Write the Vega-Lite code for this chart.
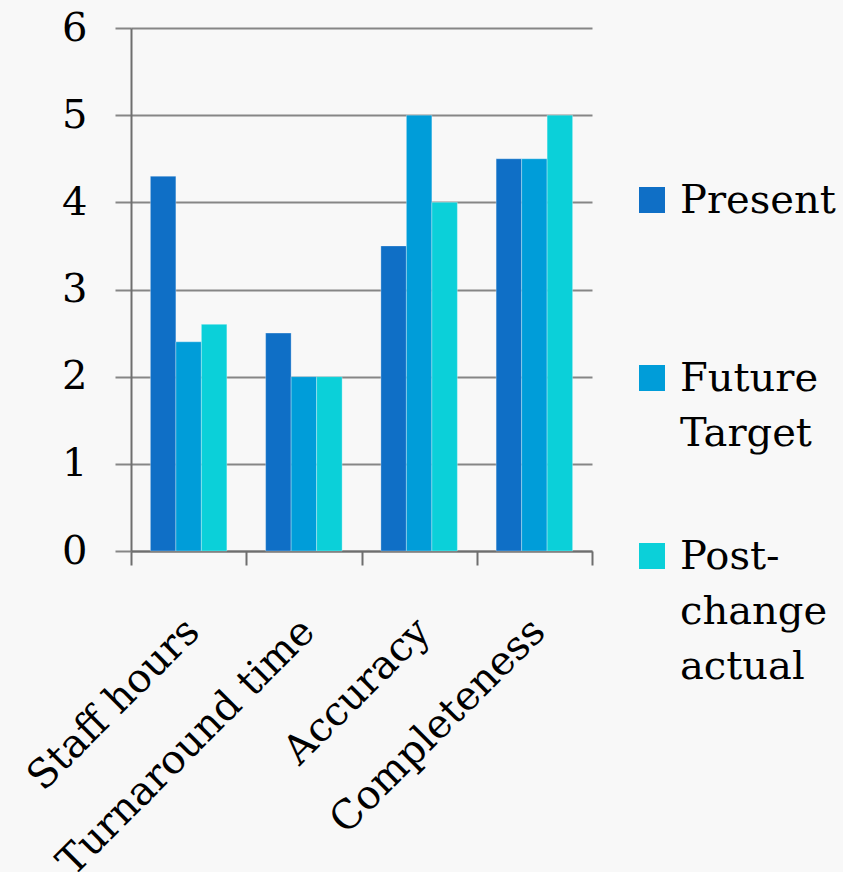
{
  "$schema": "https://vega.github.io/schema/vega-lite/v6.json",
  "width": 461,
  "height": 523,
  "autosize": {"type": "none"},
  "padding": {"left": 131, "top": 28, "right": 251, "bottom": 321},
  "background": "#f8f8f8",
  "data": {
    "values": [
      {"metric": "Staff hours", "series": "Present", "score": 4.3},
      {"metric": "Staff hours", "series": "Future Target", "score": 2.4},
      {"metric": "Staff hours", "series": "Post-change actual", "score": 2.6},
      {"metric": "Turnaround time", "series": "Present", "score": 2.5},
      {"metric": "Turnaround time", "series": "Future Target", "score": 2.0},
      {"metric": "Turnaround time", "series": "Post-change actual", "score": 2.0},
      {"metric": "Accuracy", "series": "Present", "score": 3.5},
      {"metric": "Accuracy", "series": "Future Target", "score": 5.0},
      {"metric": "Accuracy", "series": "Post-change actual", "score": 4.0},
      {"metric": "Completeness", "series": "Present", "score": 4.5},
      {"metric": "Completeness", "series": "Future Target", "score": 4.5},
      {"metric": "Completeness", "series": "Post-change actual", "score": 5.0}
    ]
  },
  "mark": {"type": "bar", "stroke": "#ffffff", "strokeOpacity": 0.3, "strokeWidth": 1},
  "encoding": {
    "x": {
      "field": "metric",
      "type": "nominal",
      "sort": null,
      "scale": {"paddingInner": 0, "paddingOuter": 0},
      "axis": {
        "title": null,
        "labelAngle": -45,
        "labelAlign": "right",
        "labelBaseline": "middle",
        "labelFont": "DejaVu Serif",
        "labelFontSize": 40,
        "labelColor": "#000000",
        "labelPadding": 60,
        "labelOffset": 4,
        "labelLimit": 0,
        "tickBand": "extent",
        "tickSize": 14,
        "tickWidth": 2,
        "tickColor": "#6e6e6e",
        "domainColor": "#6e6e6e",
        "domainWidth": 2,
        "grid": false
      }
    },
    "xOffset": {
      "field": "series",
      "type": "nominal",
      "sort": ["Present", "Future Target", "Post-change actual"],
      "scale": {"paddingInner": 0, "paddingOuter": 0.76}
    },
    "y": {
      "field": "score",
      "type": "quantitative",
      "scale": {"domain": [0, 6], "nice": false},
      "axis": {
        "title": null,
        "values": [0, 1, 2, 3, 4, 5, 6],
        "labelFont": "DejaVu Serif",
        "labelFontSize": 40,
        "labelColor": "#000000",
        "labelPadding": 28,
        "tickSize": 16,
        "tickWidth": 2,
        "tickColor": "#868686",
        "grid": true,
        "gridColor": "#868686",
        "gridWidth": 2,
        "domainColor": "#6e6e6e",
        "domainWidth": 2
      }
    },
    "color": {
      "field": "series",
      "type": "nominal",
      "sort": ["Present", "Future Target", "Post-change actual"],
      "scale": {
        "domain": ["Present", "Future Target", "Post-change actual"],
        "range": ["#0F6FC6", "#009DD9", "#0BD0D9"]
      },
      "legend": {
        "orient": "none",
        "legendX": 501,
        "legendY": 152,
        "title": null,
        "symbolType": "square",
        "symbolSize": 676,
        "symbolStrokeWidth": 0,
        "labelFont": "DejaVu Serif",
        "labelFontSize": 40,
        "labelColor": "#000000",
        "labelLimit": 0,
        "labelOffset": 8,
        "labelBaseline": "alphabetic",
        "gridAlign": "all",
        "rowPadding": 27,
        "labelExpr": "datum.label == 'Future Target' ? ['Future', 'Target'] : datum.label == 'Post-change actual' ? ['Post-', 'change', 'actual'] : datum.label",
        "encoding": {
          "labels": {
            "dy": {"value": 13},
            "lineHeight": {"value": 55}
          }
        }
      }
    }
  },
  "config": {
    "view": {"stroke": null}
  }
}
